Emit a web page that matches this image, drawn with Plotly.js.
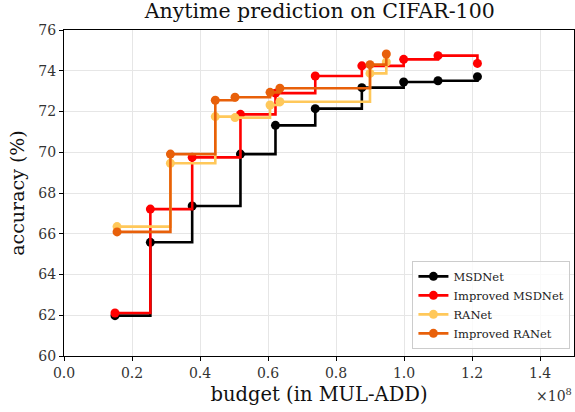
<!DOCTYPE html>
<html>
<head>
<meta charset="utf-8">
<script src="https://cdn.plot.ly/plotly-3.0.1.min.js"></script>
<style>html,body{margin:0;padding:0;background:#fff;}#chart{width:575px;height:412px;}</style>
</head>
<body>
<div id="chart"></div>
<script>
// budget in units of 1e8 MUL-ADD
const msdnetX = [0.15, 0.254, 0.377, 0.519, 0.622, 0.739, 0.876, 0.999, 1.10, 1.216];
const msdnetY = [61.98, 65.58, 67.36, 69.91, 71.32, 72.14, 73.17, 73.45, 73.51, 73.71];
const impMsdnetX = [0.15, 0.254, 0.377, 0.519, 0.622, 0.739, 0.876, 0.999, 1.10, 1.216];
const impMsdnetY = [62.11, 67.21, 69.75, 71.86, 72.90, 73.74, 74.24, 74.56, 74.74, 74.36];
const ranetX = [0.156, 0.313, 0.445, 0.503, 0.606, 0.635, 0.900, 0.948];
const ranetY = [66.35, 69.46, 71.75, 71.70, 72.32, 72.48, 73.87, 74.43];
const impRanetX = [0.156, 0.313, 0.445, 0.503, 0.606, 0.635, 0.900, 0.948];
const impRanetY = [66.09, 69.91, 72.55, 72.70, 72.94, 73.14, 74.30, 74.82];
const seriesNames = ["MSDNet", "Improved MSDNet", "RANet", "Improved RANet"];
const xTicks = [0.0, 0.2, 0.4, 0.6, 0.8, 1.0, 1.2, 1.4];
const yTicks = [60, 62, 64, 66, 68, 70, 72, 74, 76];

const colors = ["#000000", "#ff0000", "#ffc85a", "#e8600a"];
const xs = [msdnetX, impMsdnetX, ranetX, impRanetX];
const ys = [msdnetY, impMsdnetY, ranetY, impRanetY];
const serif = "'DejaVu Serif', 'Liberation Serif', serif";

const traces = seriesNames.map((n, i) => ({
  x: xs[i], y: ys[i], name: n, type: "scatter", mode: "lines+markers",
  line: {shape: "hv", color: colors[i], width: 2.6},
  marker: {color: colors[i], size: 9}
}));

const layout = {
  width: 575, height: 412,
  margin: {l: 64, r: 1, t: 30, b: 56},
  paper_bgcolor: "#fff", plot_bgcolor: "#fff",
  title: {text: "Anytime prediction on CIFAR-100", font: {family: serif, size: 20.5, color: "#111"}, x: 0.556, xanchor: "center", y: 0.99, yanchor: "top"},
  font: {family: serif, color: "#000"},
  xaxis: {
    range: [0, 1.5], tickvals: xTicks, tickformat: ".1f",
    showgrid: true, gridcolor: "#e6e6e6", gridwidth: 1,
    showline: true, linecolor: "#000", linewidth: 1, mirror: true,
    ticks: "outside", ticklen: 4, tickcolor: "#000",
    zeroline: false, tickfont: {family: serif, size: 14, color: "#333"},
    title: {text: "budget (in MUL-ADD)", font: {family: serif, size: 19.5, color: "#111"}, standoff: 7}
  },
  yaxis: {
    range: [60, 76], tickvals: yTicks,
    showgrid: true, gridcolor: "#e6e6e6", gridwidth: 1,
    showline: true, linecolor: "#000", linewidth: 1, mirror: true,
    ticks: "outside", ticklen: 4, tickcolor: "#000",
    zeroline: false, tickfont: {family: serif, size: 14, color: "#333"},
    title: {text: "accuracy (%)", font: {family: serif, size: 19, color: "#111"}, standoff: 8}
  },
  legend: {
    x: 0.993, y: 0.022, xanchor: "right", yanchor: "bottom",
    bgcolor: "rgba(255,255,255,0.8)", bordercolor: "#cccccc", borderwidth: 1,
    font: {family: serif, size: 11.5, color: "#222"}, tracegroupgap: 0, itemwidth: 30
  },
  showlegend: true,
  annotations: [{
    text: "×10<sup>8</sup>", xref: "paper", yref: "paper", x: 1.0, y: -0.085,
    xanchor: "right", yanchor: "top", showarrow: false,
    font: {family: serif, size: 14, color: "#333"}
  }]
};

Plotly.newPlot("chart", traces, layout, {displayModeBar: false, staticPlot: true});
</script>
</body>
</html>
